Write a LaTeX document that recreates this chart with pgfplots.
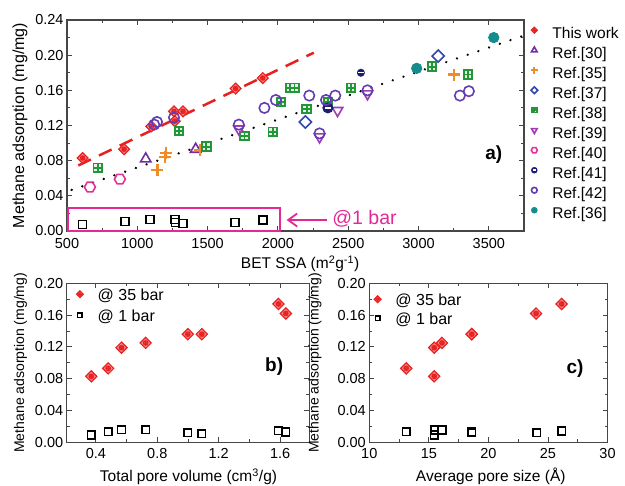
\documentclass[border=0pt]{standalone}
\usepackage{fontspec}
\setmainfont{Liberation Sans}
\setsansfont{Liberation Sans}
\usepackage{pgfplots}
\pgfplotsset{compat=1.18}
\usetikzlibrary{arrows.meta}

\definecolor{cTW}{RGB}{232,32,32}
\definecolor{cR30}{RGB}{112,48,160}
\definecolor{cR35}{RGB}{240,140,40}
\definecolor{cR37}{RGB}{50,70,170}
\definecolor{cR38}{RGB}{35,150,55}
\definecolor{cR39}{RGB}{160,60,180}
\definecolor{cR40}{RGB}{225,50,150}
\definecolor{cR41}{RGB}{30,30,110}
\definecolor{cR42}{RGB}{100,60,180}
\definecolor{cR36}{RGB}{20,140,140}
\definecolor{cPink}{RGB}{228,40,150}
\definecolor{cAx}{RGB}{70,70,70}

\pgfdeclareplotmark{twmark}{%
  \pgfpathmoveto{\pgfqpoint{0pt}{\pgfplotmarksize}}%
  \pgfpathlineto{\pgfqpoint{\pgfplotmarksize}{0pt}}%
  \pgfpathlineto{\pgfqpoint{0pt}{-\pgfplotmarksize}}%
  \pgfpathlineto{\pgfqpoint{-\pgfplotmarksize}{0pt}}%
  \pgfpathclose
  \pgfusepathqfillstroke
  \pgfpathcircle{\pgfpointorigin}{0.4\pgfplotmarksize}%
  \pgfpathmoveto{\pgfqpoint{-0.4\pgfplotmarksize}{0pt}}%
  \pgfpathlineto{\pgfqpoint{0.4\pgfplotmarksize}{0pt}}%
  \pgfpathmoveto{\pgfqpoint{0pt}{-0.4\pgfplotmarksize}}%
  \pgfpathlineto{\pgfqpoint{0pt}{0.4\pgfplotmarksize}}%
  \pgfusepathqstroke
}
\pgfdeclareplotmark{r38mark}{%
  \pgfpathrectangle{\pgfqpoint{-\pgfplotmarksize}{-\pgfplotmarksize}}{\pgfqpoint{2\pgfplotmarksize}{2\pgfplotmarksize}}%
  \pgfusepathqfillstroke
  \pgfpathmoveto{\pgfqpoint{-\pgfplotmarksize}{0pt}}\pgfpathlineto{\pgfqpoint{\pgfplotmarksize}{0pt}}%
  \pgfpathmoveto{\pgfqpoint{0pt}{-\pgfplotmarksize}}\pgfpathlineto{\pgfqpoint{0pt}{\pgfplotmarksize}}%
  \pgfusepathqstroke
}
\pgfdeclareplotmark{hexmark}{%
  \pgfpathmoveto{\pgfqpoint{\pgfplotmarksize}{0pt}}%
  \pgfpathlineto{\pgfqpoint{0.5\pgfplotmarksize}{0.866\pgfplotmarksize}}%
  \pgfpathlineto{\pgfqpoint{-0.5\pgfplotmarksize}{0.866\pgfplotmarksize}}%
  \pgfpathlineto{\pgfqpoint{-\pgfplotmarksize}{0pt}}%
  \pgfpathlineto{\pgfqpoint{-0.5\pgfplotmarksize}{-0.866\pgfplotmarksize}}%
  \pgfpathlineto{\pgfqpoint{0.5\pgfplotmarksize}{-0.866\pgfplotmarksize}}%
  \pgfpathclose
  \pgfusepathqstroke
}
\pgfdeclareplotmark{r41mark}{%
  \pgfpathcircle{\pgfpointorigin}{\pgfplotmarksize}%
  \pgfusepathqfillstroke
  \pgfsetstrokecolor{white}%
  \pgfsetlinewidth{0.3\pgfplotmarksize}%
  \pgfpathmoveto{\pgfqpoint{-0.55\pgfplotmarksize}{0pt}}\pgfpathlineto{\pgfqpoint{0.55\pgfplotmarksize}{0pt}}%
  \pgfusepathqstroke
}

\pgfplotsset{
  myaxis/.style={
    scale only axis, anchor=south west, clip=false,
    axis line style={line width=1.1bp, cAx},
    every tick/.style={line width=0.9bp, cAx},
    tick align=inside, major tick length=5bp, minor tick length=3bp,
    /pgf/number format/assume math mode=true,
    tick label style={font=\fontsize{14.5bp}{17bp}\selectfont},
    label style={font=\fontsize{15.5bp}{18bp}\selectfont},
    yticklabel style={/pgf/number format/fixed, /pgf/number format/fixed zerofill, /pgf/number format/precision=2},
    legend cell align=left,
  },
}

\begin{document}
\begin{tikzpicture}
\path[use as bounding box] (0,0) rectangle (625bp,486bp);

% ---------------- panel a ----------------
\begin{axis}[myaxis,
  at={(67bp,255bp)}, width=457bp, height=211bp,
  xmin=500, xmax=3750, ymin=0, ymax=0.24,
  xtick={500,1000,1500,2000,2500,3000,3500}, minor x tick num=1,
  ytick={0,0.04,0.08,0.12,0.16,0.20,0.24}, minor y tick num=1,
  xticklabel style={/pgf/number format/1000 sep={}, yshift=-3.5bp},
  xlabel={BET SSA (m\textsuperscript{2}g\textsuperscript{-1})},
  ylabel={Methane adsorption (mg/mg)},
  xlabel style={at={(axis description cs:0.51,-0.156)}, anchor=center},
  ylabel style={at={(axis description cs:-0.103,0.5)}, anchor=center, font=\fontsize{16bp}{18bp}\selectfont},
  legend style={at={(axis description cs:1.0066,0.975)}, anchor=north west, draw=none, fill=none,
    font=\fontsize{15.5bp}{17bp}\selectfont, inner sep=0pt, row sep=2.5bp,
    nodes={inner sep=1bp, text height=12bp, text depth=3.5bp}},
  legend image code/.code={\path (0bp,0bp) (22bp,0bp); \draw[#1, every mark/.append style={scale=0.55}] plot coordinates {(6bp,4bp)};},
]
% fit lines
\addplot[forget plot, black, line width=2.6bp, line cap=round, dash pattern=on 0.01bp off 11.3bp]
  coordinates {(533,0.0467) (3735,0.2215)};
\addplot[forget plot, cTW, line width=2.5bp, dash pattern=on 14bp off 9bp]
  coordinates {(580,0.0745) (2255,0.2028)};

\addplot[only marks, mark=twmark, mark size=5.4bp, draw=cTW, fill=cTW!50!white, line width=1.2bp]
  coordinates {(611,0.083) (906,0.093) (1100,0.119) (1261,0.136) (1325,0.136) (1266,0.125) (1699,0.162) (1892,0.174)};
\addlegendentry{This work}
\addplot[only marks, mark=triangle, mark size=6bp, draw=cR30, line width=1.6bp]
  coordinates {(1060,0.082) (1415,0.093)};
\addlegendentry{Ref.[30]}
\addplot[only marks, mark=+, mark size=6bp, draw=cR35, line width=2.2bp]
  coordinates {(1143,0.069) (1205,0.089) (1198,0.084) (1443,0.092) (3252,0.178)};
\addlegendentry{Ref.[35]}
\addplot[only marks, mark=square, mark size=4.3bp, draw=cR37, line width=1.6bp, mark options={rotate=45}]
  coordinates {(2195,0.124) (3140,0.199)};
\addlegendentry{Ref.[37]}
\addplot[only marks, mark=r38mark, mark size=4.2bp, draw=cR38, fill=cR38!12!white, line width=1.9bp]
  coordinates {(718,0.072) (1297,0.114) (1491,0.096) (1762,0.108) (1963,0.113) (2023,0.147) (2090,0.163) (2118,0.163) (2204,0.139) (2355,0.147) (2519,0.163) (3094,0.187) (3351,0.178)};
\addlegendentry{Ref.[38]}
\addplot[only marks, mark=triangle, mark size=6bp, draw=cR39, line width=1.6bp, mark options={rotate=180}]
  coordinates {(1722,0.116) (2296,0.107) (2424,0.137) (2637,0.156)};
\addlegendentry{Ref.[39]}
\addplot[only marks, mark=hexmark, mark size=5.5bp, draw=cR40, line width=1.6bp]
  coordinates {(663,0.050) (876,0.059)};
\addlegendentry{Ref.[40]}
\addplot[only marks, mark=r41mark, mark size=5bp, draw=cR41, fill=cR41, line width=1bp]
  coordinates {(2355,0.140) (2590,0.180)};
\addlegendentry{Ref.[41]}
\addplot[only marks, mark=o, mark size=5.2bp, draw=cR42, line width=1.6bp]
  coordinates {(1120,0.121) (1140,0.124) (1261,0.129) (1722,0.121) (1904,0.140) (1985,0.149) (2223,0.154) (2296,0.111) (2342,0.149) (2408,0.154) (2637,0.160) (3294,0.154) (3358,0.159)};
\addlegendentry{Ref.[42]}
\addplot[only marks, mark=*, mark size=5.2bp, draw=cR36, fill=cR36, line width=0.8bp]
  coordinates {(2987,0.185) (3535,0.220)};
\addlegendentry{Ref.[36]}

\addplot[forget plot, only marks, mark=square, mark size=4bp, draw=black, line width=1.6bp]
  coordinates {(611,0.0075) (911,0.0107) (1089,0.0133) (1266,0.0133) (1273,0.0095) (1325,0.0084) (1696,0.0095) (1892,0.0122)};

\draw[cPink, line width=1.8bp] (axis cs:509,0) rectangle (axis cs:2016,0.0265);
\draw[cPink, line width=1.8bp, {Straight Barb[length=9bp,width=13bp]}-] (axis cs:2062,0.0125) -- (axis cs:2351,0.0125);
\node[anchor=west, text=cPink, inner sep=0pt, font=\fontsize{19.5bp}{22bp}\selectfont] at (axis cs:2386,0.0137) {@1 bar};
\node[font=\bfseries\fontsize{19bp}{22bp}\selectfont] at (axis cs:3535,0.0865) {a)};
\end{axis}

% ---------------- panel b ----------------
\begin{axis}[myaxis,
  at={(66.7bp,43.7bp)}, width=242.6bp, height=159bp,
  xmin=0.21, xmax=1.79, ymin=0, ymax=0.20,
  xtick={0.4,0.8,1.2,1.6}, minor x tick num=1,
  ytick={0,0.04,0.08,0.12,0.16,0.20}, minor y tick num=1,
  xticklabel style={/pgf/number format/fixed, /pgf/number format/fixed zerofill, /pgf/number format/precision=1, yshift=-2.5bp},
  xlabel={Total pore volume (cm\textsuperscript{3}/g)},
  ylabel={Methane adsorption (mg/mg)},
  xlabel style={at={(axis description cs:0.502,-0.216)}, anchor=center},
  ylabel style={at={(axis description cs:-0.19,0.5)}, anchor=center, font=\fontsize{14bp}{16bp}\selectfont},
  legend style={at={(axis description cs:0.026,0.98)}, anchor=north west, draw=none, fill=none,
    font=\fontsize{16bp}{18bp}\selectfont, inner sep=0pt, row sep=3bp,
    nodes={inner sep=1bp, text height=12.5bp, text depth=3.5bp}},
  legend image code/.code={\path (0bp,0bp) (22bp,0bp); \draw[#1, every mark/.append style={scale=0.6}] plot coordinates {(6bp,1.5bp)};},
]
\addplot[only marks, mark=twmark, mark size=5.6bp, draw=cTW, fill=cTW!50!white, line width=1.2bp]
  coordinates {(0.37,0.083) (0.48,0.093) (0.567,0.119) (0.724,0.125) (0.999,0.136) (1.09,0.136) (1.589,0.174) (1.637,0.162)};
\addlegendentry{@ 35 bar}
\addplot[only marks, mark=square, mark size=3.8bp, draw=black, line width=1.5bp]
  coordinates {(0.37,0.0092) (0.48,0.0133) (0.567,0.0160) (0.724,0.0160) (0.999,0.0122) (1.09,0.0106) (1.589,0.0146) (1.637,0.0130)};
\addlegendentry{@ 1 bar}
\node[font=\bfseries\fontsize{19bp}{22bp}\selectfont] at (axis cs:1.561,0.0951) {b)};
\end{axis}

% ---------------- panel c ----------------
\begin{axis}[myaxis,
  at={(369.3bp,43.7bp)}, width=238.2bp, height=159bp,
  xmin=10, xmax=30, ymin=0, ymax=0.20,
  xtick={10,15,20,25,30}, minor x tick num=1,
  ytick={0,0.04,0.08,0.12,0.16,0.20}, minor y tick num=1,
  xticklabel style={yshift=-2.5bp},
  xlabel={Average pore size (\AA)},
  ylabel={Methane adsorption (mg/mg)},
  xlabel style={at={(axis description cs:0.51,-0.216)}, anchor=center},
  ylabel style={at={(axis description cs:-0.228,0.5)}, anchor=center, font=\fontsize{14bp}{16bp}\selectfont},
  legend style={at={(axis description cs:0.006,0.948)}, anchor=north west, draw=none, fill=none,
    font=\fontsize{16bp}{18bp}\selectfont, inner sep=0pt, row sep=1bp,
    nodes={inner sep=1bp, text height=12.5bp, text depth=3.5bp}},
  legend image code/.code={\path (0bp,0bp) (22bp,0bp); \draw[#1, every mark/.append style={scale=0.6}] plot coordinates {(6bp,1.5bp)};},
]
\addplot[only marks, mark=twmark, mark size=5.6bp, draw=cTW, fill=cTW!50!white, line width=1.2bp]
  coordinates {(13.1,0.093) (15.45,0.119) (15.45,0.083) (16.1,0.125) (18.6,0.136) (18.6,0.136) (24.0,0.162) (26.15,0.174)};
\addlegendentry{@ 35 bar}
\addplot[only marks, mark=square, mark size=3.8bp, draw=black, line width=1.5bp]
  coordinates {(13.1,0.0133) (15.45,0.0092) (15.5,0.0155) (16.1,0.0155) (18.6,0.0120) (18.6,0.0130) (24.05,0.0120) (26.15,0.0142)};
\addlegendentry{@ 1 bar}
\node[font=\bfseries\fontsize{19bp}{22bp}\selectfont] at (axis cs:27.27,0.0928) {c)};
\end{axis}
\end{tikzpicture}
\end{document}
